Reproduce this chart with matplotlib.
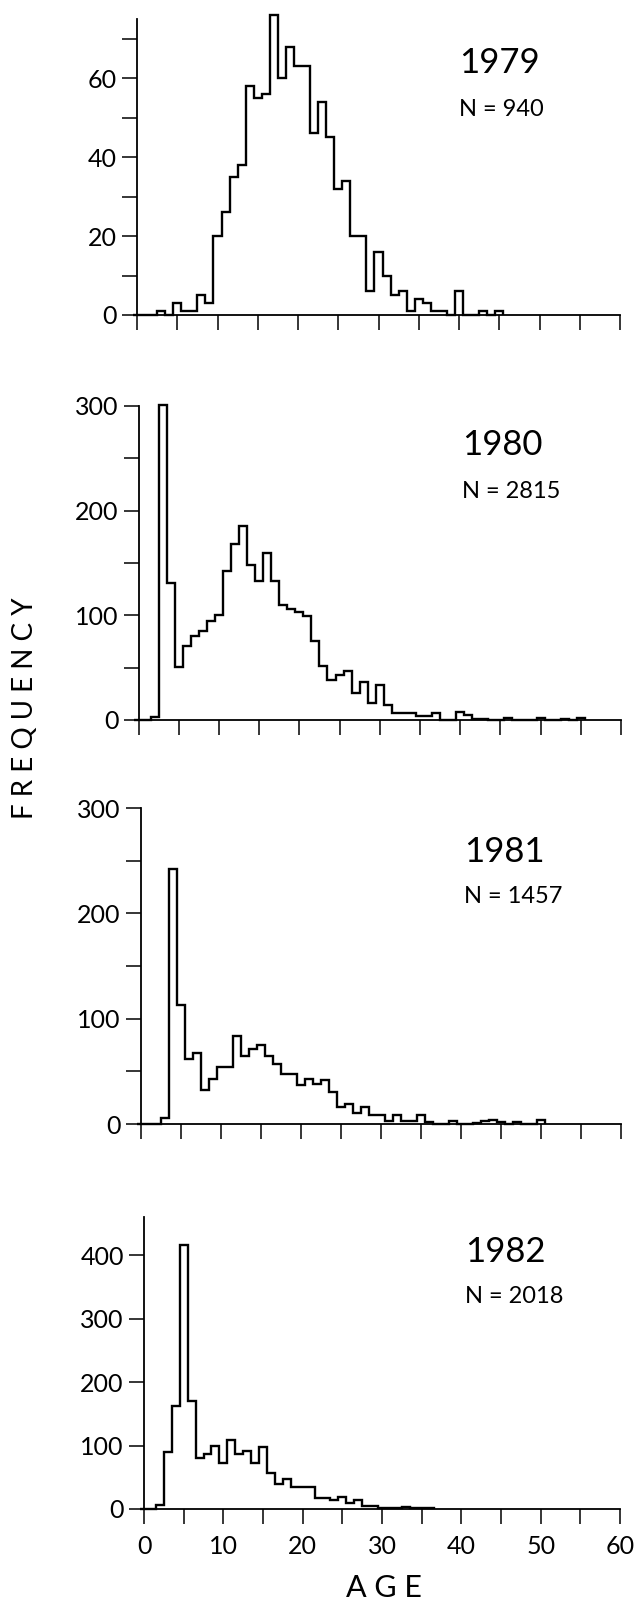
import numpy as np
import matplotlib.pyplot as plt

plt.rcParams['font.family'] = ['Lato', 'DejaVu Sans']

# counts per one-year age class (bins centred on whole years)
c1979 = [0, 0, 0, 1, 0, 3, 1, 1, 5, 3, 20, 26, 35, 38, 58, 55, 56, 76, 60, 68,
         63, 63, 46, 54, 45, 32, 34, 20, 20, 6, 16, 10, 5, 6, 1, 4, 3, 1, 1, 0,
         6, 0, 0, 1, 0, 1]
c1980 = [0, 0, 3, 301, 131, 51, 71, 80, 85, 95, 100, 142, 168, 185, 148, 133, 160, 133, 110, 106,
         103, 99, 75, 52, 38, 43, 47, 26, 36, 16, 33, 14, 7, 7, 7, 4, 4, 7, 0, 0,
         8, 5, 1, 1, 0, 0, 2, 0, 0, 0, 2, 0, 0, 1, 0, 2]
c1981 = [0, 0, 0, 6, 242, 113, 62, 67, 32, 43, 54, 54, 84, 65, 71, 75, 65, 57, 47, 47,
         37, 43, 38, 42, 30, 16, 19, 10, 16, 9, 9, 3, 9, 3, 3, 9, 2, 0, 0, 3,
         0, 0, 1, 3, 4, 2, 0, 2, 0, 0, 4]
c1982 = [0, 0, 7, 90, 163, 416, 170, 80, 87, 99, 72, 108, 87, 92, 73, 98, 56, 40, 48, 34,
         34, 34, 17, 17, 14, 19, 9, 14, 5, 4, 2, 2, 1, 3, 1, 1, 2]

years = ['1979', '1980', '1981', '1982']
sizes = [940, 2815, 1457, 2018]
counts = [c1979, c1980, c1981, c1982]
ytops = [75, 300, 300, 460]
yticks = [np.arange(0, 71, 10), np.arange(0, 301, 50), np.arange(0, 301, 50), np.arange(0, 401, 100)]
ylabels = [['0', '', '20', '', '40', '', '60', ''],
           ['0', '', '100', '', '200', '', '300'],
           ['0', '', '100', '', '200', '', '300'],
           ['0', '100', '200', '300', '400']]
xticks = np.arange(0, 61, 5)
xlabels = [str(v) if v % 10 == 0 else '' for v in xticks]

W, H = 635, 1600
# panel boxes in pixels: x of age 0, x of age 60, y of zero line, y of axis top
boxes = [(137, 620, 315, 19), (138.5, 621, 720, 406),
         (141, 621, 1124, 808), (144, 620, 1509, 1217)]
# year label positions (left, baseline) in pixels
labpos = [(459, 73, 116), (462, 455, 498), (464, 862, 903), (465, 1262, 1303)]

fig = plt.figure(figsize=(W / 100, H / 100), dpi=100)

for i in range(4):
    x0, x1, yb, yt = boxes[i]
    ax = fig.add_axes([x0 / W, 1 - yb / H, (x1 - x0) / W, (yb - yt) / H])
    vals = np.array(counts[i])
    edges = np.arange(len(vals) + 1) - 0.5
    ax.stairs(vals, edges, color='black', lw=1.7, clip_on=False)
    ax.set_xlim(0, 60)
    ax.set_ylim(0, ytops[i])
    for s in ['top', 'right']:
        ax.spines[s].set_visible(False)
    for s in ['left', 'bottom']:
        ax.spines[s].set_linewidth(1.3)
    ax.set_yticks(yticks[i])
    ax.set_yticklabels(ylabels[i])
    ax.set_xticks(xticks)
    if i == 3:
        ax.set_xticklabels(xlabels)
    else:
        ax.set_xticklabels([])
    ax.tick_params(direction='out', length=10.5, width=1.1, labelsize=18, pad=4)
    ax.tick_params(axis='x', pad=8)

    lx, by, bn = labpos[i]
    fig.text(lx / W, 1 - by / H, years[i], fontsize=25, va='baseline')
    fig.text(lx / W, 1 - bn / H, 'N = %d' % sizes[i], fontsize=17, va='baseline')

fig.text(25 / W, 1 - 708 / H, 'F R E Q U E N C Y', rotation=90, fontsize=20,
         ha='center', va='center')
fig.text(384 / W, 1 - 1597 / H, 'A G E', fontsize=22, ha='center', va='baseline')

fig.savefig('out.png', dpi=100)
